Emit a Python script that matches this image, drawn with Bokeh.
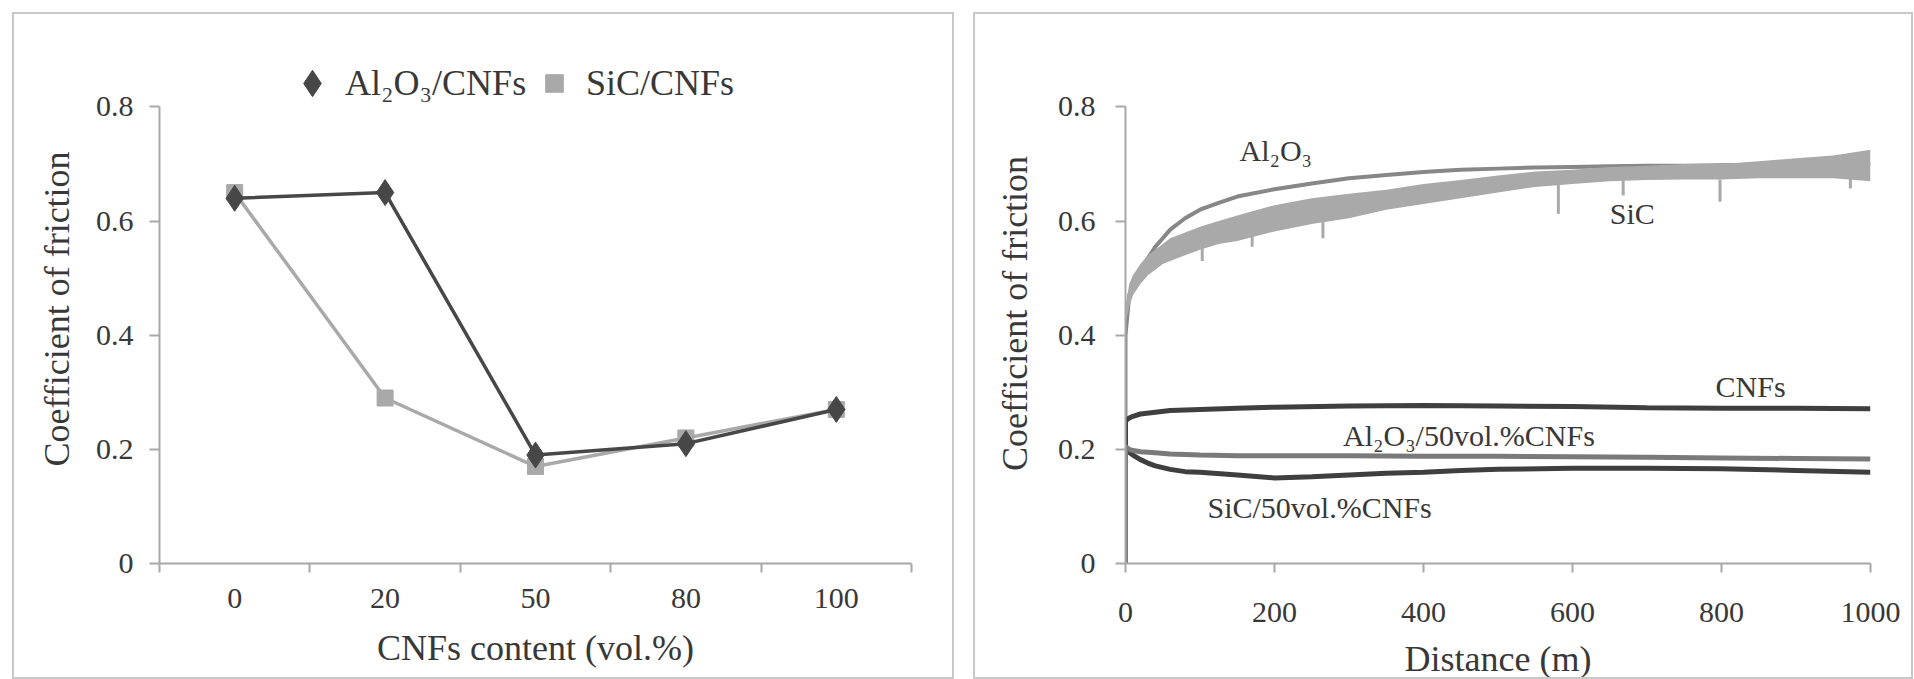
from bokeh.plotting import figure
from bokeh.models import Range1d, FixedTicker, Legend, LegendItem, ColumnDataSource
from bokeh.layouts import row
from bokeh.embed import file_html
from bokeh.resources import INLINE
from bokeh.core.properties import value

# ---------------- Left panel data ----------------
cnf_content = ["0", "20", "50", "80", "100"]
cof_al2o3_cnf = [0.64, 0.65, 0.19, 0.21, 0.27]
cof_sic_cnf = [0.65, 0.29, 0.17, 0.22, 0.27]
y_ticks = [0, 0.2, 0.4, 0.6, 0.8]

# ---------------- Right panel data ----------------
dist_al2o3 = [0, 0, 5, 10, 20, 30, 40, 50, 60, 80, 100, 125, 150, 200, 250, 300, 350, 400,
              450, 500, 550, 600, 650, 700, 750, 800, 850, 900, 950, 1000]
cof_al2o3 = [0.0, 0.40, 0.47, 0.49, 0.515, 0.535, 0.555, 0.57, 0.585, 0.605, 0.62, 0.632, 0.643,
             0.656, 0.666, 0.675, 0.681, 0.686, 0.69, 0.692, 0.694, 0.695, 0.696, 0.697, 0.697,
             0.698, 0.699, 0.70, 0.70, 0.70]

dist_sic = [0, 5, 10, 20, 30, 40, 50, 60, 80, 100, 125, 150, 200, 250, 300, 350, 400, 450,
            500, 550, 600, 650, 700, 750, 800, 850, 900, 950, 1000]
cof_sic_low = [0.42, 0.45, 0.47, 0.49, 0.505, 0.515, 0.525, 0.53, 0.54, 0.55, 0.56, 0.565, 0.582,
               0.595, 0.605, 0.62, 0.63, 0.64, 0.65, 0.66, 0.665, 0.67, 0.672, 0.673, 0.673,
               0.675, 0.675, 0.675, 0.67]
cof_sic_high = [0.45, 0.49, 0.505, 0.525, 0.54, 0.55, 0.56, 0.57, 0.58, 0.59, 0.60, 0.61, 0.628,
                0.64, 0.648, 0.655, 0.665, 0.672, 0.68, 0.687, 0.69, 0.695, 0.697, 0.70, 0.70,
                0.705, 0.71, 0.715, 0.725]
spike_dist = [103, 170, 265, 581, 668, 798, 973]
spike_top = [0.56, 0.575, 0.61, 0.665, 0.672, 0.673, 0.675]
spike_bottom = [0.53, 0.555, 0.57, 0.613, 0.645, 0.634, 0.657]

dist_cnf = [0, 0, 5, 10, 20, 40, 60, 100, 150, 200, 300, 400, 500, 600, 700, 800, 900, 1000]
cof_cnf = [0.0, 0.25, 0.255, 0.258, 0.262, 0.265, 0.268, 0.27, 0.272, 0.274, 0.276, 0.277,
           0.276, 0.275, 0.273, 0.272, 0.272, 0.271]

dist_al_50 = [0, 0, 5, 10, 20, 40, 60, 100, 150, 200, 300, 400, 500, 600, 700, 800, 900, 1000]
cof_al_50 = [0.0, 0.205, 0.2, 0.198, 0.196, 0.194, 0.192, 0.19, 0.189, 0.189, 0.189, 0.188,
             0.188, 0.187, 0.186, 0.185, 0.184, 0.183]

dist_sic_50 = [0, 0, 5, 10, 20, 30, 40, 50, 60, 80, 100, 150, 200, 250, 300, 350, 400, 450,
               500, 600, 700, 800, 900, 1000]
cof_sic_50 = [0.0, 0.2, 0.195, 0.19, 0.182, 0.176, 0.171, 0.168, 0.165, 0.161, 0.16, 0.155,
              0.15, 0.152, 0.155, 0.158, 0.16, 0.163, 0.165, 0.167, 0.167, 0.166, 0.163, 0.16]

dist_ticks = [0, 200, 400, 600, 800, 1000]

label_text = ["Al\u2082O\u2083", "SiC", "CNFs", "Al\u2082O\u2083/50vol.%CNFs", "SiC/50vol.%CNFs"]
label_x = [153, 650, 792, 292, 110]
label_y = [0.723, 0.613, 0.31, 0.225, 0.099]

FONT = "Liberation Serif"
TXT = "#383838"
AXIS = "#a8a8a8"
DARK = "#474747"
LIGHT = "#a9a9a9"
Y_TOP = 0.892  # frame reaches above the 0.8 axis end, leaving room for the legend


def style(p, xlabel, ylabel):
    p.grid.visible = False
    p.outline_line_color = None
    p.background_fill_color = "white"
    p.border_fill_color = "white"
    for ax in (p.xaxis[0], p.yaxis[0]):
        ax.axis_line_color = AXIS
        ax.axis_line_width = 2
        ax.major_tick_line_color = AXIS
        ax.major_tick_line_width = 2
        ax.minor_tick_line_color = AXIS
        ax.minor_tick_line_width = 2
        ax.major_tick_in = 0
        ax.minor_tick_in = 0
        ax.minor_tick_out = 0
        ax.major_label_text_font = FONT
        ax.major_label_text_font_size = "30px"
        ax.major_label_text_color = TXT
        ax.axis_label_text_font = FONT
        ax.axis_label_text_font_size = "36px"
        ax.axis_label_text_font_style = "normal"
        ax.axis_label_text_color = TXT
    p.xaxis[0].axis_label = xlabel
    p.yaxis[0].axis_label = ylabel
    p.yaxis[0].major_tick_out = 10
    p.yaxis[0].ticker = FixedTicker(ticks=y_ticks, minor_ticks=[])
    p.yaxis[0].major_label_overrides = {t: ("0" if t == 0 else f"{t:g}") for t in y_ticks}
    p.yaxis[0].bounds = (y_ticks[0], y_ticks[-1])
    p.styles = {"border": "2px solid #c8c8c8"}


def legend_box(label, renderer, glyph, loc, standoff):
    return Legend(items=[LegendItem(label=label, renderers=[renderer])],
                  orientation="horizontal", location=loc,
                  label_text_font=FONT, label_text_font_size="36px", label_text_color=TXT,
                  glyph_width=glyph, glyph_height=glyph, label_standoff=standoff, spacing=0,
                  padding=0, margin=0, border_line_color=None, background_fill_alpha=0)


# ---------------- Left figure ----------------
cat_x = [i + 0.5 for i in range(len(cnf_content))]
src_left = ColumnDataSource(dict(x=cat_x, al=cof_al2o3_cnf, sic=cof_sic_cnf))

pL = figure(width=942, height=667, x_range=Range1d(0, len(cnf_content)), y_range=Range1d(0, Y_TOP),
            output_backend="svg", toolbar_location=None,
            min_border_left=145, min_border_right=45, min_border_top=40, min_border_bottom=115)
style(pL, "CNFs content (vol.%)", "Coefficient of friction")
pL.yaxis[0].major_label_standoff = 16
pL.yaxis[0].axis_label_standoff = 16
pL.xaxis[0].ticker = FixedTicker(ticks=cat_x, minor_ticks=list(range(len(cnf_content) + 1)))
pL.xaxis[0].major_label_overrides = {x: c for x, c in zip(cat_x, cnf_content)}
pL.xaxis[0].major_tick_out = 0
pL.xaxis[0].minor_tick_out = 9
pL.xaxis[0].major_label_standoff = 16
pL.xaxis[0].axis_label_standoff = 17

pL.line("x", "sic", source=src_left, color=LIGHT, line_width=3.5)
r_sic = pL.scatter("x", "sic", source=src_left, marker="square", size=16, color=LIGHT)
pL.line("x", "al", source=src_left, color=DARK, line_width=3.5)
r_al = pL.scatter("x", "al", source=src_left, marker="diamond", size=26, color=DARK)

pL.add_layout(legend_box("Al\u2082O\u2083/CNFs", r_al, 66, (120, 447), 0))
pL.add_layout(legend_box("SiC/CNFs", r_sic, 44, (373, 458), 10))

# ---------------- Right figure ----------------
pR = figure(width=940, height=667, x_range=Range1d(0, 1000), y_range=Range1d(0, Y_TOP),
            output_backend="svg", toolbar_location=None,
            min_border_left=150, min_border_right=45, min_border_top=40, min_border_bottom=115)
style(pR, "Distance (m)", "Coefficient of  friction")
pR.yaxis[0].major_label_standoff = 20
pR.yaxis[0].axis_label_standoff = 20
pR.xaxis[0].ticker = FixedTicker(ticks=dist_ticks, minor_ticks=[])
pR.xaxis[0].major_tick_out = 9
pR.xaxis[0].major_label_standoff = 30
pR.xaxis[0].axis_label_standoff = 14

pR.line(dist_al2o3, cof_al2o3, color="#878787", line_width=4)
pR.varea(x=dist_sic, y1=cof_sic_low, y2=cof_sic_high, fill_color=LIGHT)
pR.segment(x0=spike_dist, y0=spike_top, x1=spike_dist, y1=spike_bottom, color=LIGHT, line_width=3)
pR.line(dist_cnf, cof_cnf, color="#3f3f3f", line_width=5)
pR.line(dist_sic_50, cof_sic_50, color="#3f3f3f", line_width=5)
pR.line(dist_al_50, cof_al_50, color="#7a7a7a", line_width=5)

src_lab = ColumnDataSource(dict(x=label_x, y=label_y, t=label_text))
pR.text("x", "y", text="t", source=src_lab, text_font=value(FONT), text_font_size="30px",
        text_color=TXT, text_baseline="middle", text_align="left")

layout = row(pL, pR, spacing=19)
layout.margin = (12, 0, 0, 12)
open("out.html", "w").write(file_html(layout, INLINE))
